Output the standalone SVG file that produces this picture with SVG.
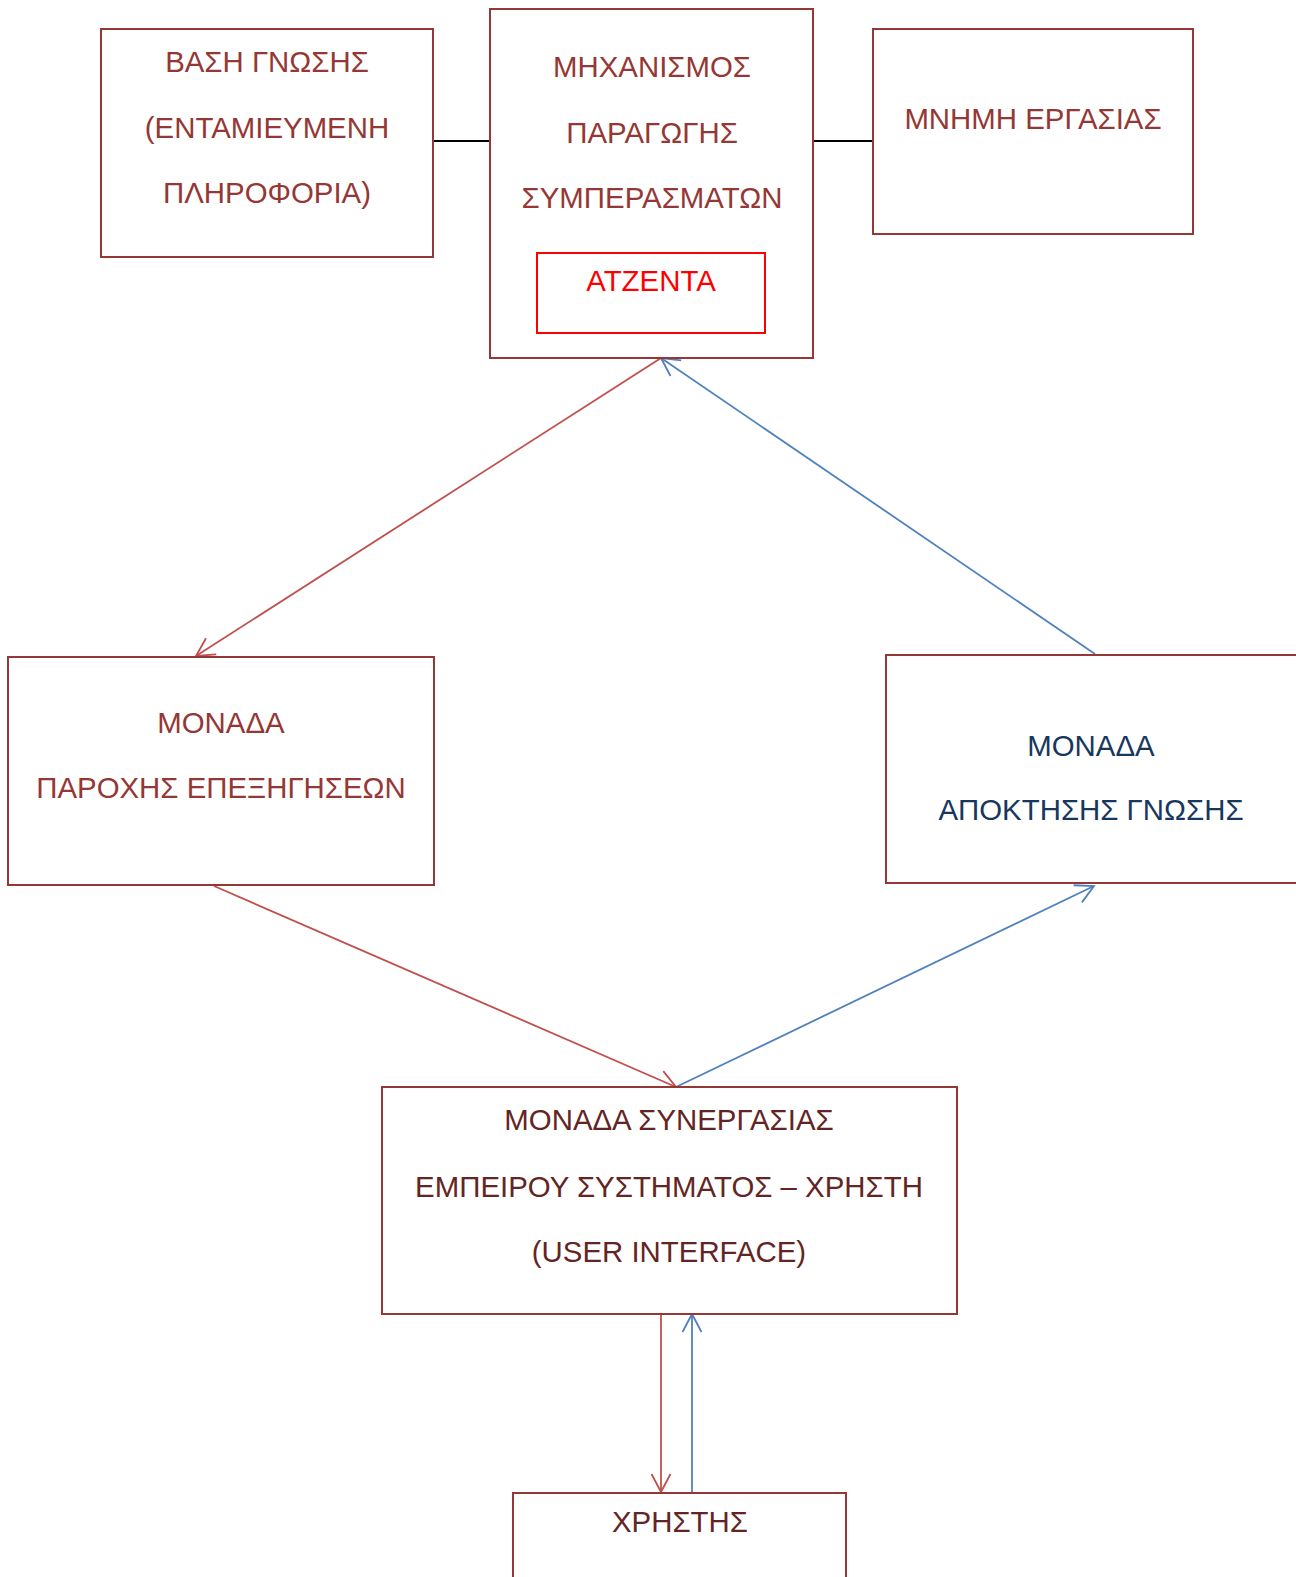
<svg xmlns="http://www.w3.org/2000/svg" width="1296" height="1577" viewBox="0 0 1296 1577">
<defs>
<style>
.box{fill:#fff;stroke:#953735;stroke-width:2}
.t{font-family:"Liberation Sans",Arial,sans-serif;font-size:29.4px;text-anchor:middle}
.m{fill:#953735}
.d{fill:#632523}
.n{fill:#17375E}
.r{stroke:#C0504D;stroke-width:1.8;fill:none}
.b{stroke:#4F81BD;stroke-width:1.8;fill:none}
.k{stroke:#000;stroke-width:1.8;fill:none}
</style>
<marker id="ar" markerUnits="userSpaceOnUse" markerWidth="24" markerHeight="24" viewBox="-20 -12 24 24" refX="0" refY="0" orient="auto">
<path d="M-18,-9.5 L0,0 L-18,9.5" fill="none" stroke="#C0504D" stroke-width="1.8"/>
</marker>
<marker id="ab" markerUnits="userSpaceOnUse" markerWidth="24" markerHeight="24" viewBox="-20 -12 24 24" refX="0" refY="0" orient="auto">
<path d="M-18,-9.5 L0,0 L-18,9.5" fill="none" stroke="#4F81BD" stroke-width="1.8"/>
</marker>
</defs>
<rect width="1296" height="1577" fill="#fff"/>
<g id="connectors">
<line class="k" x1="433" y1="141" x2="490" y2="141"/>
<line class="k" x1="813" y1="141" x2="873" y2="141"/>
<line class="r" x1="661" y1="358" x2="196" y2="656" marker-end="url(#ar)"/>
<line class="b" x1="1095" y1="654" x2="661" y2="358" marker-end="url(#ab)"/>
<line class="r" x1="214" y1="886" x2="676" y2="1087" marker-end="url(#ar)"/>
<line class="b" x1="676" y1="1087" x2="1094" y2="886" marker-end="url(#ab)"/>
<line class="r" x1="661" y1="1314" x2="661" y2="1492" marker-end="url(#ar)"/>
<line class="b" x1="692" y1="1492" x2="692" y2="1314" marker-end="url(#ab)"/>
</g>
<g id="knowledge-base">
<rect class="box" x="101" y="29" width="332" height="228"/>
<text class="t m" x="267" y="72">ΒΑΣΗ ΓΝΩΣΗΣ</text>
<text class="t m" x="267" y="138">(ΕΝΤΑΜΙΕΥΜΕΝΗ</text>
<text class="t m" x="267" y="203">ΠΛΗΡΟΦΟΡΙΑ)</text>
</g>
<g id="inference-engine">
<rect class="box" x="490" y="9" width="323" height="349"/>
<text class="t m" x="652" y="77">ΜΗΧΑΝΙΣΜΟΣ</text>
<text class="t m" x="652" y="143">ΠΑΡΑΓΩΓΗΣ</text>
<text class="t m" x="652" y="208">ΣΥΜΠΕΡΑΣΜΑΤΩΝ</text>
</g>
<g id="agenda">
<rect x="537" y="253" width="228" height="80" fill="#fff" stroke="#FF0000" stroke-width="2"/>
<text class="t" x="651" y="291" fill="#FF0000">ΑΤΖΕΝΤΑ</text>
</g>
<g id="working-memory">
<rect class="box" x="873" y="29" width="320" height="205"/>
<text class="t m" x="1033" y="129">ΜΝΗΜΗ ΕΡΓΑΣΙΑΣ</text>
</g>
<g id="explanation-module">
<rect class="box" x="8" y="657" width="426" height="228"/>
<text class="t m" x="221" y="733">ΜΟΝΑΔΑ</text>
<text class="t m" x="221" y="798">ΠΑΡΟΧΗΣ ΕΠΕΞΗΓΗΣΕΩΝ</text>
</g>
<g id="knowledge-acquisition">
<rect class="box" x="886" y="655" width="412" height="228"/>
<text class="t n" x="1091" y="756">ΜΟΝΑΔΑ</text>
<text class="t n" x="1091" y="820">ΑΠΟΚΤΗΣΗΣ ΓΝΩΣΗΣ</text>
</g>
<g id="user-interface">
<rect class="box" x="382" y="1087" width="575" height="227"/>
<text class="t d" x="669" y="1130">ΜΟΝΑΔΑ ΣΥΝΕΡΓΑΣΙΑΣ</text>
<text class="t d" x="669" y="1197">ΕΜΠΕΙΡΟΥ ΣΥΣΤΗΜΑΤΟΣ – ΧΡΗΣΤΗ</text>
<text class="t d" x="669" y="1262">(USER INTERFACE)</text>
</g>
<g id="user">
<rect class="box" x="513" y="1493" width="333" height="120"/>
<text class="t d" x="680" y="1532">ΧΡΗΣΤΗΣ</text>
</g>
</svg>
